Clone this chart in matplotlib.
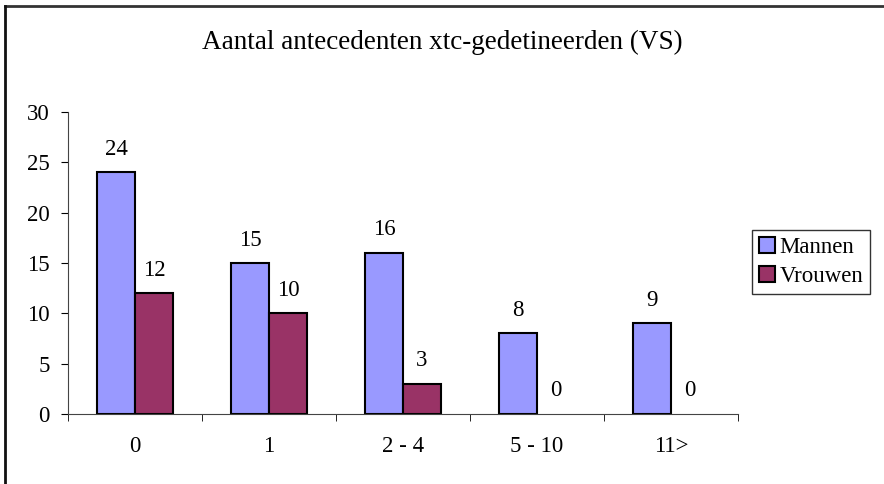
import numpy as np
import matplotlib.pyplot as plt
from matplotlib.lines import Line2D

plt.rcParams['font.family'] = ['Liberation Serif', 'DejaVu Serif']

# data
categories = ['0', '1', '2 - 4', '5 - 10', '11>']
mannen = [24, 15, 16, 8, 9]
vrouwen = [12, 10, 3, 0, 0]

fig = plt.figure(figsize=(8.84, 4.84), dpi=100)
ax = fig.add_axes([68/884, 70/484, 670/884, 302/484])

x = np.arange(len(categories))
w = 0.284
b1 = ax.bar(x - w/2, mannen, w, color='#9999FF', edgecolor='black', linewidth=1.5, label='Mannen')
b2 = ax.bar(x + w/2, vrouwen, w, color='#993366', edgecolor='black', linewidth=1.5, label='Vrouwen')

for bars in (b1, b2):
    for r in bars:
        if r.get_height() == 0:
            r.set_linewidth(0)
        ax.annotate(f'{int(r.get_height())}', (r.get_x() + r.get_width()/2, r.get_height()),
                    xytext=(0, 9), textcoords='offset points', ha='center', va='bottom', fontsize=16.5)

ax.set_xlim(-0.5, len(categories) - 0.5)
ax.set_ylim(0, 30)
ax.set_yticks(range(0, 31, 5))
ax.set_xticks(x)
ax.set_xticklabels(categories)
ax.set_xticks(np.arange(-0.5, len(categories), 1), minor=True)
ax.tick_params(axis='x', which='major', length=0, pad=16, labelsize=16.5)
ax.tick_params(axis='x', which='minor', length=5, direction='out')
ax.tick_params(axis='y', length=5, direction='out', labelsize=16.5, pad=8)

for s in ['top', 'right']:
    ax.spines[s].set_visible(False)
ax.spines['left'].set_color('#444444')
ax.spines['bottom'].set_color('#444444')

fig.text(0.5, 1 - 42/484, 'Aantal antecedenten xtc-gedetineerden (VS)', ha='center', va='center', fontsize=19.5)

leg = ax.legend(loc='center left', bbox_to_anchor=(752/884, 1 - 262/484), bbox_transform=fig.transFigure,
                frameon=True, fancybox=False, fontsize=16.5, handlelength=0.7, handleheight=0.7,
                handletextpad=0.2, borderpad=0.3, labelspacing=0.35, borderaxespad=0)
leg.get_frame().set_edgecolor('black')
leg.get_frame().set_linewidth(1)

# chart border (only top and left visible)
fig.lines.append(Line2D([4.5/884, 1], [1 - 5.5/484, 1 - 5.5/484], transform=fig.transFigure,
                        color='#333333', linewidth=2))
fig.lines.append(Line2D([4.5/884, 4.5/884], [0, 1 - 5.5/484], transform=fig.transFigure,
                        color='#111111', linewidth=2))

fig.savefig('out.png', dpi=100)
